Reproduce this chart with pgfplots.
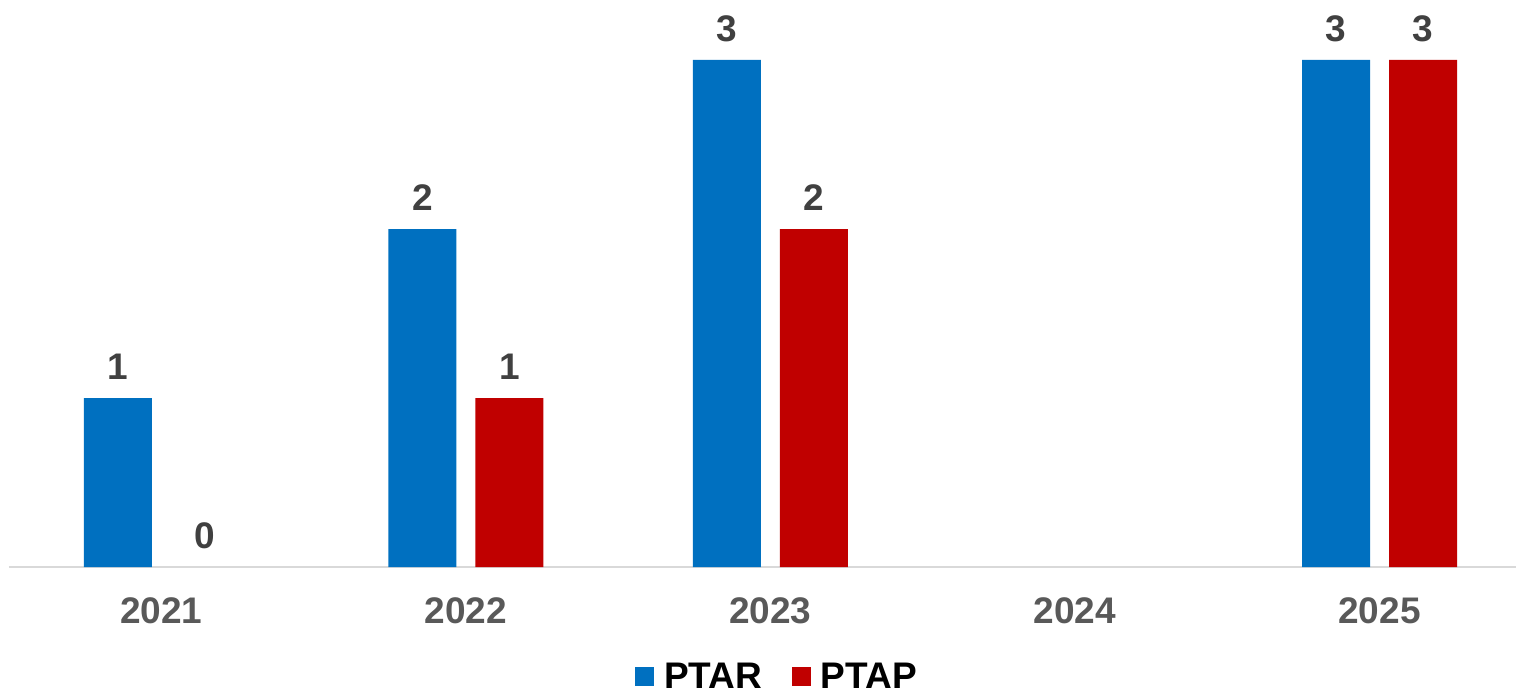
\documentclass[border=0pt]{standalone}
\usepackage{pgfplots}
\pgfplotsset{compat=1.18}
\usepackage{fontspec}
\setmainfont{Liberation Sans}
\definecolor{cblue}{HTML}{0070C0}
\definecolor{cred}{HTML}{C00000}
\definecolor{ticklab}{HTML}{595959}
\definecolor{datalab}{HTML}{404040}
\definecolor{axl}{HTML}{D9D9D9}
\begin{document}
\begin{tikzpicture}
\begin{axis}[
  scale only axis, width=753.5pt, height=283.5pt,
  xmin=-0.5, xmax=4.448, ymin=0, ymax=3.355,
  axis x line*=bottom, axis y line=none,
  x axis line style={draw=axl, line width=0.75pt},
  xtick={0,1,2,3,4},
  xticklabels={2021,2022,2023,2024,2025},
  major tick length=0pt,
  xticklabel style={font=\fontsize{18.5}{22}\selectfont\bfseries, text=ticklab, anchor=north, inner sep=0pt, yshift=-15pt},
  /pgf/number format/assume math mode=true,
  nodes near coords,
  nodes near coords style={font=\fontsize{18.5}{22}\selectfont\bfseries, text=datalab, anchor=south, inner sep=0pt, yshift=9pt},
  clip=false,
  legend columns=2,
  legend image code/.code={},
  legend style={at={(0.4154,-0.1693)}, anchor=north west, draw=none, fill=none, inner sep=0pt, outer sep=0pt,
    font=\fontsize{18.5}{22}\selectfont\bfseries, text=black, nodes={inner sep=0pt},
    /tikz/every odd column/.style={column sep=0pt},
    /tikz/every even column/.style={column sep=15pt}},
]
\addplot[ybar, bar width=34pt, bar shift=-21.75pt, fill=cblue, draw=none,
  every node near coord/.append style={xshift=-21.75pt}]
  coordinates {(0,1) (1,2) (2,3) (4,3)};
\addlegendentry{\textcolor{cblue}{\rule[1.25pt]{9.5pt}{9.5pt}}\hspace{5pt}PTAR}
\addplot[ybar, bar width=34pt, bar shift=21.75pt, fill=cred, draw=none,
  every node near coord/.append style={xshift=21.75pt}]
  coordinates {(1,1) (2,2) (4,3)};
\addlegendentry{\textcolor{cred}{\rule[1.25pt]{9.5pt}{9.5pt}}\hspace{5pt}PTAP}
\addplot[ybar, bar width=34pt, bar shift=21.75pt, fill=none, draw=none, forget plot,
  every node near coord/.append style={xshift=21.75pt}]
  coordinates {(0,0)};
\end{axis}
\pgfresetboundingbox
\path ([shift={(-4.5pt,-63pt)}]current axis.south west) rectangle ([shift={(753.5pt,283.5pt)}]current axis.south west);
\end{tikzpicture}
\end{document}
